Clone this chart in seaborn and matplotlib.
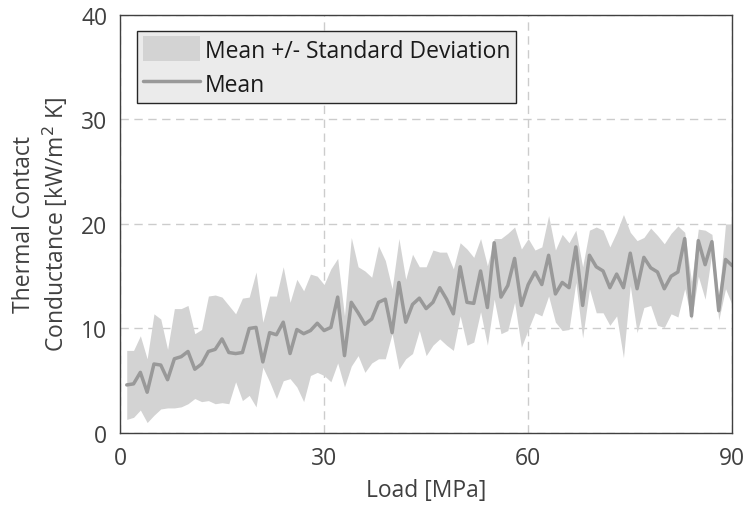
import numpy as np
import pandas as pd
import matplotlib
matplotlib.use('Agg')
import matplotlib.pyplot as plt
import seaborn as sns

# load steps [MPa]
load = list(range(1, 91))

# mean thermal contact conductance [kW/m^2 K]
mean = [4.6, 4.7, 5.8, 3.9, 6.6, 6.5, 5.1, 7.1, 7.3, 7.8,
        6.1, 6.6, 7.8, 8.0, 9.0, 7.7, 7.6, 7.7, 10.0, 10.1,
        6.8, 9.6, 9.4, 10.6, 7.6, 9.9, 9.5, 9.8, 10.5, 9.8,
        10.1, 13.0, 7.4, 12.5, 11.5, 10.4, 10.9, 12.5, 12.8, 9.6,
        14.4, 10.6, 12.3, 12.9, 11.9, 12.5, 13.9, 12.8, 11.4, 15.9,
        12.5, 12.4, 15.5, 12.0, 18.2, 13.0, 14.1, 16.7, 12.2, 14.2,
        15.4, 14.2, 17.0, 13.3, 14.4, 13.9, 17.8, 12.2, 17.0, 15.9,
        15.5, 13.9, 15.2, 13.9, 17.2, 13.8, 16.8, 15.8, 15.4, 13.8,
        15.0, 15.4, 18.6, 11.2, 18.4, 16.1, 18.3, 11.7, 16.6, 16.0]

# mean + standard deviation
upper = [7.9, 7.9, 9.3, 7.1, 11.4, 10.9, 8.0, 11.9, 11.9, 12.2,
         9.5, 9.9, 13.1, 13.2, 13.0, 12.2, 11.4, 12.9, 13.0, 15.4,
         10.6, 13.1, 13.1, 15.9, 12.5, 14.7, 13.6, 15.2, 15.0, 14.2,
         15.7, 16.7, 11.2, 18.7, 15.9, 15.5, 14.9, 17.9, 16.5, 13.8,
         18.6, 14.7, 17.1, 15.9, 15.9, 17.5, 17.3, 17.3, 15.7, 18.2,
         17.6, 16.8, 18.6, 16.0, 18.6, 18.6, 19.1, 19.7, 17.6, 18.6,
         17.5, 17.8, 20.8, 17.5, 19.0, 18.2, 19.4, 15.9, 19.4, 19.7,
         19.4, 17.8, 19.2, 20.9, 19.2, 18.4, 18.7, 19.6, 18.9, 18.1,
         19.1, 19.8, 19.2, 14.5, 19.5, 19.4, 19.0, 12.8, 20.0, 20.0]

# mean - standard deviation
lower = [1.3, 1.5, 2.2, 1.0, 1.7, 2.3, 2.4, 2.4, 2.5, 2.8,
         3.3, 3.0, 3.1, 2.8, 2.9, 2.8, 4.9, 3.1, 3.6, 2.5,
         6.3, 4.9, 3.3, 5.0, 5.2, 4.4, 3.0, 5.5, 5.8, 5.5,
         4.9, 6.7, 4.4, 6.4, 7.4, 5.8, 6.7, 7.1, 7.1, 9.5,
         6.1, 7.1, 7.6, 9.8, 7.4, 8.4, 9.0, 8.4, 7.9, 11.2,
         8.4, 8.7, 11.6, 8.4, 12.8, 9.5, 9.8, 12.5, 8.2, 9.9,
         11.5, 11.2, 13.1, 10.6, 9.8, 9.9, 14.4, 9.1, 13.8, 11.5,
         11.5, 10.3, 11.2, 7.2, 14.1, 9.6, 12.0, 12.2, 10.3, 10.1,
         11.4, 11.1, 13.8, 10.8, 15.0, 12.8, 17.3, 10.8, 13.8, 12.2]

df = pd.DataFrame({'load': load, 'mean': mean, 'upper': upper, 'lower': lower})

sns.set_style('white')
plt.rcParams['font.family'] = ['Open Sans', 'DejaVu Sans']
txt = '#404040'
fs = 16.5

fig = plt.figure(figsize=(7.45, 5.1), dpi=100)
ax = fig.add_axes([0.161, 0.149, 0.822, 0.820])

ax.fill_between(df['load'], df['lower'], df['upper'], color='#d3d3d3',
                linewidth=0, label='Mean +/- Standard Deviation')
sns.lineplot(data=df, x='load', y='mean', color='#999999', linewidth=2.5,
             label='Mean', ax=ax)

ax.set_xlim(0, 90)
ax.set_ylim(0, 40)
ax.set_xticks([0, 30, 60, 90])
ax.set_yticks([0, 10, 20, 30, 40])
ax.grid(True, linestyle=(0, (6, 4)), color='#cccccc', linewidth=1)
ax.tick_params(direction='in', length=5, width=1, colors=txt, labelsize=fs, pad=9)
for s in ax.spines.values():
    s.set_color(txt)
    s.set_linewidth(1)

ax.set_xlabel('Load [MPa]', fontsize=fs, color=txt, labelpad=6)
ax.set_ylabel('Thermal Contact\nConductance [kW/m$^{2}$ K]', fontsize=fs,
              color=txt, labelpad=8)

leg = ax.legend(loc='upper left', bbox_to_anchor=(0.028, 0.962), fontsize=fs,
                frameon=True, fancybox=False, borderaxespad=0,
                handlelength=2.5, handleheight=1.3, handletextpad=0.2,
                labelspacing=0.35, borderpad=0.25)
leg.get_frame().set_facecolor('#ebebeb')
leg.get_frame().set_edgecolor('#262626')
leg.get_frame().set_alpha(1)
leg.get_frame().set_linewidth(1)
for t in leg.get_texts():
    t.set_color('#1a1a1a')

fig.savefig('out.png', dpi=100)
